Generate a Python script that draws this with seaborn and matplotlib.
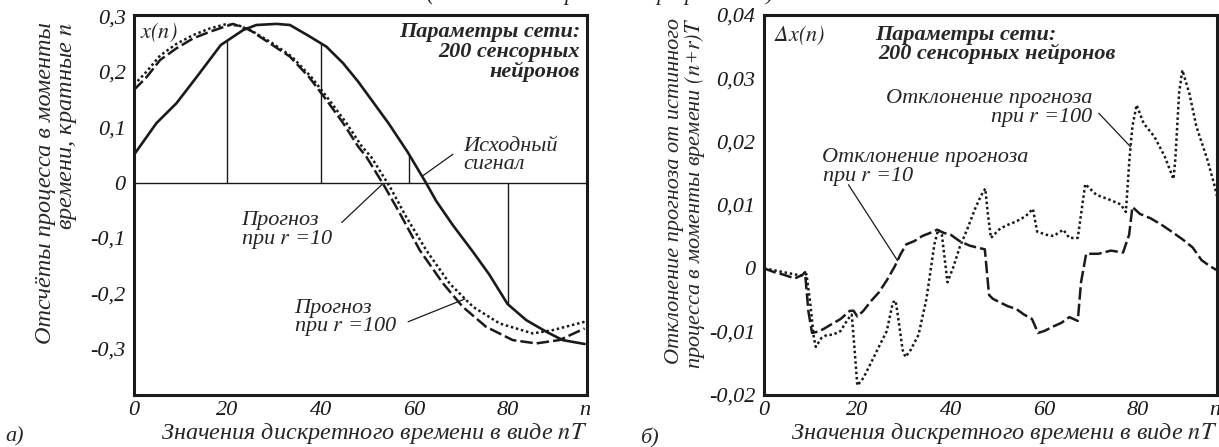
import numpy as np
import pandas as pd
import seaborn as sns
import matplotlib.pyplot as plt

# ---- panel a): signal and forecasts ----
sig_n = [0, 4.8, 9.1, 13.4, 18.6, 23.4, 26.2, 30.5, 33.4, 37.5, 41.2, 44.8, 48,
         54.5, 58.6, 62.5, 64.7, 68.3, 72.6, 76.1, 80, 84, 88.3, 91.8, 96.5]
sig_x = [0.05, 0.107, 0.143, 0.19, 0.248, 0.275, 0.284, 0.286, 0.284, 0.264, 0.245, 0.215, 0.182,
         0.107, 0.055, 0.0, -0.033, -0.077, -0.125, -0.166, -0.219, -0.248, -0.269, -0.284, -0.291]

r10_n = [0, 2.7, 5.6, 9.1, 12.7, 16.3, 21.2, 24.8, 29.1, 33.4, 37.5, 41.2, 44.8, 48,
         49.8, 53.7, 56.9, 61.2, 66.2, 70.4, 75.4, 81.1, 86.1, 91.1, 96.5]
r10_x = [0.167, 0.19, 0.221, 0.242, 0.26, 0.272, 0.286, 0.275, 0.251, 0.227, 0.19, 0.149, 0.107, 0.065,
         0.046, -0.0075, -0.055, -0.122, -0.182, -0.224, -0.26, -0.284, -0.29, -0.284, -0.263]

r100_n = [0, 2.7, 5.6, 9.1, 12.7, 16.3, 19.5, 22.5, 25.5, 29.5, 33.8, 38, 41.8, 45.5, 48.8,
          50.8, 54.8, 58.3, 62.6, 67.6, 72.6, 78.3, 85.4, 89.7, 96.5]
r100_x = [0.176, 0.2, 0.229, 0.25, 0.266, 0.278, 0.285, 0.283, 0.272, 0.252, 0.227, 0.19, 0.149, 0.107, 0.065,
          0.046, -0.0075, -0.062, -0.122, -0.182, -0.224, -0.254, -0.272, -0.266, -0.251]

sample_n = [20, 40, 59, 80]

# ---- panel б): forecast deviations ----
d10_n = [0, 2.2, 4.2, 6.6, 8.3, 8.8, 9.5, 10.3, 11.5, 12.7, 14.3, 16.4, 18.4, 19.2, 20, 21.3, 23,
         24.6, 26.3, 28, 29.3, 30.5, 32.2, 33.9, 35.6, 37.1, 38.5, 40, 41.9, 44, 45.6, 47.3,
         48.2, 49, 50.6, 52.3, 54, 55.7, 57.4, 58.7, 60, 61.9, 63.7, 65.4, 67.2, 67.9, 69,
         71.6, 74.3, 76.9, 78.2, 78.9, 80.5, 82.8, 85.1, 87.3, 89.6, 91.8, 93.7, 95.6, 97.5]
d10_x = [0.0, -0.0006, -0.001, -0.0016, -0.001, -0.0006, -0.0067, -0.0102, -0.01, -0.0096, -0.0089,
         -0.008, -0.0067, -0.0067, -0.0076, -0.0067, -0.0051, -0.0038, -0.0019, 0.0003, 0.0023,
         0.0038, 0.0043, 0.0051, 0.0056, 0.0061, 0.0056, 0.0053, 0.0043, 0.0036, 0.0033, 0.003,
         -0.0042, -0.0048, -0.0054, -0.006, -0.0064, -0.0073, -0.008, -0.0102, -0.0099, -0.0092,
         -0.0086, -0.0077, -0.0083, -0.0022, 0.0023, 0.0023, 0.0028, 0.0025, 0.0053, 0.0097,
         0.0086, 0.0079, 0.0069, 0.0058, 0.0046, 0.0033, 0.0013, 0.0003, -0.0005]

d100_n = [0, 4.2, 8.3, 9.1, 9.9, 10.7, 11.1, 12.3, 13.5, 14.7, 16.4, 18, 18.8, 19.3, 20, 21.3, 23,
          24.6, 26.3, 27.6, 28.2, 28.9, 29.7, 30.3, 31.4, 33.1, 34.8, 36.5, 37.3, 38.1, 39.3,
          40.6, 41.9, 43.6, 45.2, 46.5, 47.4, 47.9, 48.6, 50.6, 52.3, 54, 56, 57.6, 58.5, 60.5,
          62, 64.1, 65.4, 67.2, 68.8, 71.2, 73.8, 76.4, 77.5, 78.3, 78.9, 79.8, 81.3, 83.6,
          85.8, 87.7, 88.1, 88.9, 89.6, 91.1, 92.6, 94.9, 96.4, 97.5]
d100_x = [0.0, -0.0006, -0.0012, -0.0009, -0.0054, -0.011, -0.0124, -0.011, -0.0105, -0.0105,
          -0.0099, -0.008, -0.0073, -0.0118, -0.0185, -0.0173, -0.0148, -0.0124, -0.0099, -0.0054,
          -0.0051, -0.0086, -0.0129, -0.014, -0.0129, -0.0105, -0.0048, 0.0038, 0.0061, 0.0053,
          -0.0022, 0.0003, 0.0033, 0.0063, 0.0094, 0.0115, 0.0126, 0.0089, 0.0048, 0.0063, 0.0069,
          0.0074, 0.0082, 0.0094, 0.0058, 0.0053, 0.0051, 0.0061, 0.0048, 0.0048, 0.0133, 0.0116,
          0.0109, 0.0101, 0.0089, 0.0176, 0.0224, 0.0258, 0.0229, 0.0208, 0.0177, 0.0141, 0.0173,
          0.0277, 0.0313, 0.0276, 0.0224, 0.0173, 0.0133, 0.01]

xt_vals = [0, 20, 40, 60, 80, 96.5]
xt_labels = ['0', '20', '40', '60', '80', 'n']
a_yt = [0.3, 0.2, 0.1, 0, -0.1, -0.2, -0.3]
a_ylabels = ['0,3', '0,2', '0,1', '0', '-0,1', '-0,2', '-0,3']
b_yt = [0.04, 0.03, 0.02, 0.01, 0, -0.01, -0.02]
b_ylabels = ['0,04', '0,03', '0,02', '0,01', '0', '-0,01', '-0,02']

sns.set_theme(style='white')
plt.rcParams['font.family'] = ['Liberation Serif', 'DejaVu Serif']
plt.rcParams['font.style'] = 'italic'
plt.rcParams['mathtext.fontset'] = 'stix'

FS = 16
FL = 17.5
DASH = (0, (5, 1.6))
DOT = (0, (1, 1.1))

fig = plt.figure(figsize=(12.19, 4.47), dpi=100)
ax1 = fig.add_axes([0.1099, 0.1163, 0.3716, 0.8501])
ax2 = fig.add_axes([0.6267, 0.1163, 0.3716, 0.8501])

df_sig = pd.DataFrame({'n': sig_n, 'x': sig_x})
df_r10 = pd.DataFrame({'n': r10_n, 'x': r10_x})
df_r100 = pd.DataFrame({'n': r100_n, 'x': r100_x})

# zero line and sample verticals
ax1.axhline(0, color='k', lw=1.0)
samp_val = np.interp(sample_n, sig_n, sig_x)
ax1.vlines(sample_n, 0, samp_val, color='k', lw=1.0)

sns.lineplot(data=df_sig, x='n', y='x', ax=ax1, color='k', lw=1.9, estimator=None)
sns.lineplot(data=df_r10, x='n', y='x', ax=ax1, color='k', lw=1.8, linestyle=DASH, estimator=None)
sns.lineplot(data=df_r100, x='n', y='x', ax=ax1, color='k', lw=1.8, linestyle=DOT, estimator=None)

df_d10 = pd.DataFrame({'n': d10_n, 'x': d10_x})
df_d100 = pd.DataFrame({'n': d100_n, 'x': d100_x})
sns.lineplot(data=df_d10, x='n', y='x', ax=ax2, color='k', lw=1.8, linestyle=DASH, estimator=None)
sns.lineplot(data=df_d100, x='n', y='x', ax=ax2, color='k', lw=1.8, linestyle=DOT, estimator=None)

for ax, yt, yl, ylim in [(ax1, a_yt, a_ylabels, (-0.383, 0.302)),
                         (ax2, b_yt, b_ylabels, (-0.02, 0.04))]:
    ax.set_xlim(0, 97)
    ax.set_ylim(*ylim)
    ax.set_xticks(xt_vals)
    ax.set_xticklabels(xt_labels, fontsize=FS)
    ax.set_yticks(yt)
    ax.set_yticklabels(yl, fontsize=FS)
    ax.tick_params(direction='in', length=7, width=1, colors='k', pad=4)
    ax.tick_params(axis='y', pad=6)
    ax.set_xlabel('')
    ax.set_ylabel('')
    for s in ax.spines.values():
        s.set_color('k')
        s.set_linewidth(2.2)
    ax.text(1.0, -0.1, 'Значения дискретного времени в виде $nT$', transform=ax.transAxes,
            ha='right', va='center', fontsize=FL)

# panel a) annotations
ax1.text(0.013, 0.955, '$x(n)$', transform=ax1.transAxes, ha='left', va='center', fontsize=FS)
ax1.text(0.985, 0.982, 'Параметры сети:\n200 сенсорных\nнейронов', transform=ax1.transAxes,
         ha='right', va='top', fontsize=FS, fontweight='bold', linespacing=1.0, multialignment='right')
ax1.text(0.726, 0.679, 'Исходный\nсигнал', transform=ax1.transAxes, ha='left', va='top',
         fontsize=FS, linespacing=0.9)
ax1.text(0.236, 0.484, 'Прогноз\nпри $r$ =10', transform=ax1.transAxes, ha='left', va='top',
         fontsize=FS, linespacing=0.85)
ax1.text(0.353, 0.253, 'Прогноз\nпри $r$ =100', transform=ax1.transAxes, ha='left', va='top',
         fontsize=FS, linespacing=0.85)
lead = dict(arrowstyle='-', color='k', lw=0.9, shrinkA=0, shrinkB=0)
ax1.annotate('', xy=(61.7, np.interp(61.7, sig_n, sig_x)), xytext=(68.3, 0.051), arrowprops=lead)
ax1.annotate('', xy=(53.3, np.interp(53.3, r10_n, r10_x)), xytext=(44.5, -0.072), arrowprops=lead)
ax1.annotate('', xy=(70.9, np.interp(70.9, r100_n, r100_x)), xytext=(58.7, -0.251), arrowprops=lead)

# panel б) annotations
ax2.text(0.022, 0.947, r'$\Delta x(n)$', transform=ax2.transAxes, ha='left', va='center', fontsize=FS)
ax2.text(0.446, 0.947, 'Параметры сети:', transform=ax2.transAxes, ha='center', va='center',
         fontsize=FS, fontweight='bold')
ax2.text(0.514, 0.897, '200 сенсорных нейронов', transform=ax2.transAxes, ha='center', va='center',
         fontsize=FS, fontweight='bold')
ax2.text(0.726, 0.805, 'Отклонение прогноза\nпри $r$ =100', transform=ax2.transAxes, ha='right',
         va='top', fontsize=FS, linespacing=0.85, multialignment='right')
ax2.text(0.128, 0.65, 'Отклонение прогноза\nпри $r$ =10', transform=ax2.transAxes, ha='left',
         va='top', fontsize=FS, linespacing=0.85)
ax2.annotate('', xy=(78.5, np.interp(78.5, d100_n, d100_x)), xytext=(71.7, 0.0245), arrowprops=lead)
ax2.annotate('', xy=(28.6, np.interp(28.6, d10_n, d10_x)), xytext=(18.1, 0.0132), arrowprops=lead)

# axis titles
fig.text(57 / 1219, 1 - 22 / 447, 'Отсчёты процесса в моменты\nвремени, кратные $n$', rotation=90,
         ha='center', va='top', fontsize=FL, multialignment='right', linespacing=1.0)
fig.text(686 / 1219, 1 - 18 / 447, 'Отклонение прогноза от истинного\nпроцесса в моменты времени $(n$+$r)T$',
         rotation=90, ha='center', va='top', fontsize=FS, multialignment='right', linespacing=0.9)

fig.text(5 / 1219, 1 - 437 / 447, 'а)', ha='left', va='center', fontsize=FS)
fig.text(640 / 1219, 1 - 438 / 447, 'б)', ha='left', va='center', fontsize=FS)
# caption line of the page, mostly outside the picture as in the scan
fig.text(600 / 1219, 1.0, '(итоги моделирования при разных r)', ha='center', va='baseline', fontsize=FS)

fig.savefig('out.png', dpi=100)
